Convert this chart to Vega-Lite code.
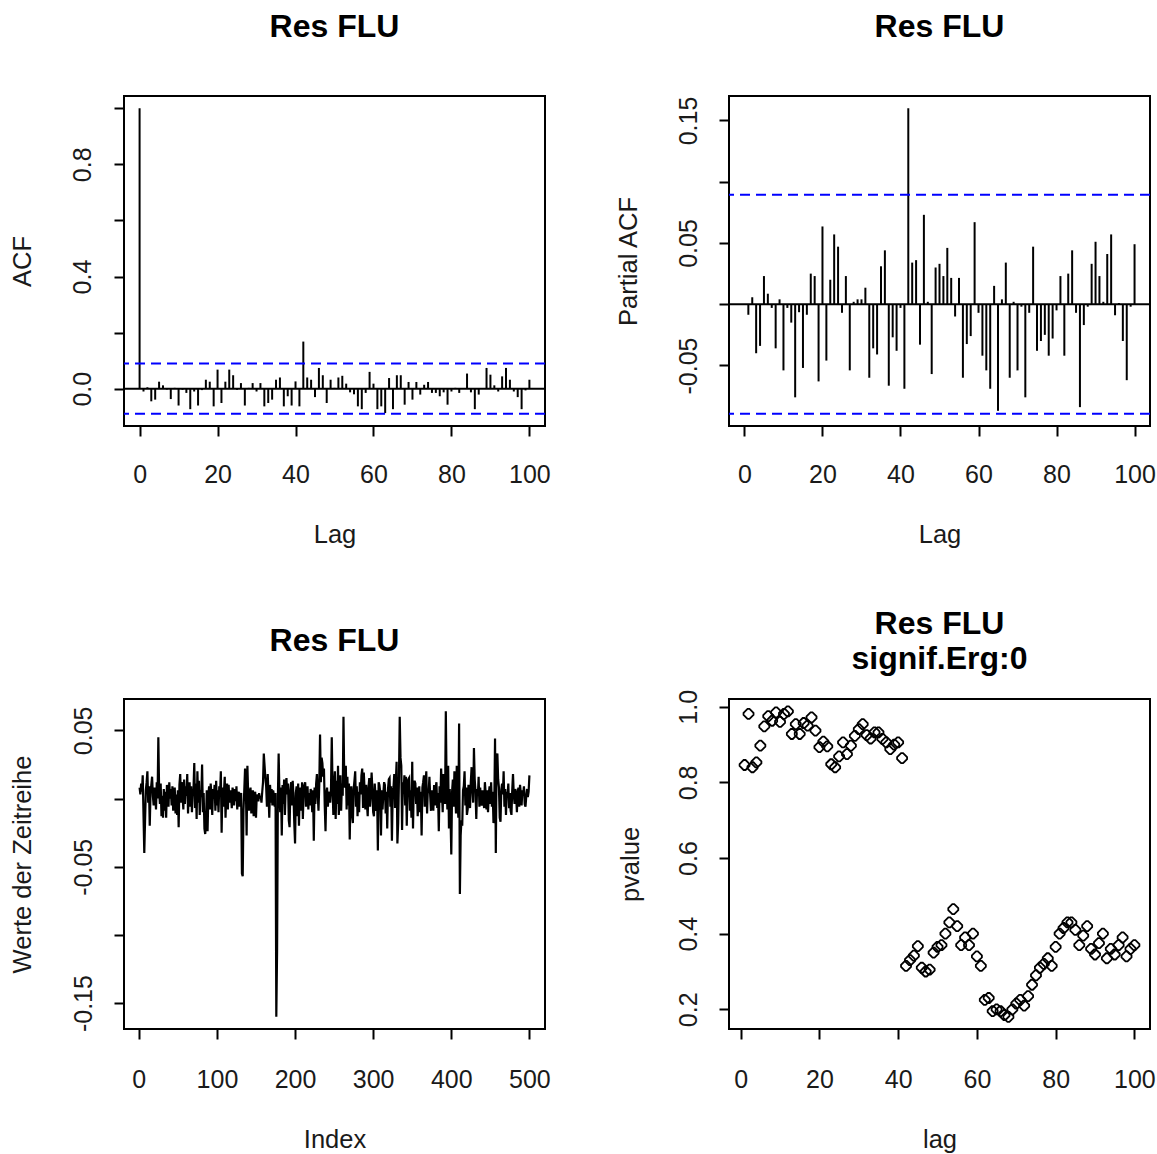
{
"$schema":"https://vega.github.io/schema/vega-lite/v6.json",
"autosize":{"type":"none"},
"padding":{"left":124,"top":96,"right":1033,"bottom":1058},
"background":"white",
"config":{
 "font":"Liberation Sans",
 "view":{"stroke":"black","strokeWidth":2},
 "axis":{"domain":false,"grid":false,"ticks":true,"tickColor":"black","tickWidth":2,"tickSize":10,"labelFont":"Liberation Sans","labelFontSize":25,"labelColor":"#1a1a1a","labelOverlap":false,"labelFlush":false,"labelBound":false,"titleFont":"Liberation Sans","titleFontSize":25.5,"titleFontWeight":"normal","titleColor":"#1a1a1a"},
 "axisBottom":{"labelBaseline":"middle","labelAlign":"center","labelAngle":0,"titleBaseline":"middle","titleAnchor":"middle"},
 "axisLeft":{"labelAngle":-90,"labelAlign":"center","labelBaseline":"middle","titleAngle":-90,"titleBaseline":"middle"},
 "title":{"font":"Liberation Sans","fontSize":32,"fontWeight":"bold","color":"black","anchor":"middle","frame":"group","baseline":"middle"}
},
"datasets":{
 "acf":[{"lag":0,"acf":1},{"lag":1,"acf":-0.010},{"lag":2,"acf":0.005},{"lag":3,"acf":-0.045},{"lag":4,"acf":-0.039},{"lag":5,"acf":0.025},{"lag":6,"acf":0.012},{"lag":7,"acf":-0.003},{"lag":8,"acf":-0.037},{"lag":9,"acf":0.003},{"lag":10,"acf":-0.060},{"lag":11,"acf":-0.004},{"lag":12,"acf":-0.015},{"lag":13,"acf":-0.073},{"lag":14,"acf":-0.010},{"lag":15,"acf":-0.060},{"lag":16,"acf":-0.005},{"lag":17,"acf":0.032},{"lag":18,"acf":0.025},{"lag":19,"acf":-0.063},{"lag":20,"acf":0.068},{"lag":21,"acf":-0.051},{"lag":22,"acf":0.025},{"lag":23,"acf":0.068},{"lag":24,"acf":0.048},{"lag":25,"acf":-0.004},{"lag":26,"acf":0.020},{"lag":27,"acf":-0.060},{"lag":28,"acf":0.003},{"lag":29,"acf":0.020},{"lag":30,"acf":-0.010},{"lag":31,"acf":0.020},{"lag":32,"acf":-0.063},{"lag":33,"acf":-0.051},{"lag":34,"acf":-0.039},{"lag":35,"acf":0.032},{"lag":36,"acf":0.040},{"lag":37,"acf":-0.063},{"lag":38,"acf":-0.027},{"lag":39,"acf":-0.060},{"lag":40,"acf":0.026},{"lag":41,"acf":-0.063},{"lag":42,"acf":0.168},{"lag":43,"acf":0.040},{"lag":44,"acf":0.032},{"lag":45,"acf":-0.030},{"lag":46,"acf":0.074},{"lag":47,"acf":0.048},{"lag":48,"acf":-0.051},{"lag":49,"acf":0.032},{"lag":50,"acf":0.003},{"lag":51,"acf":0.040},{"lag":52,"acf":0.046},{"lag":53,"acf":0.018},{"lag":54,"acf":-0.013},{"lag":55,"acf":-0.020},{"lag":56,"acf":-0.063},{"lag":57,"acf":-0.073},{"lag":58,"acf":-0.015},{"lag":59,"acf":0.060},{"lag":60,"acf":0.018},{"lag":61,"acf":-0.073},{"lag":62,"acf":-0.063},{"lag":63,"acf":-0.087},{"lag":64,"acf":0.038},{"lag":65,"acf":-0.073},{"lag":66,"acf":0.048},{"lag":67,"acf":0.048},{"lag":68,"acf":-0.057},{"lag":69,"acf":0.024},{"lag":70,"acf":-0.039},{"lag":71,"acf":0.024},{"lag":72,"acf":-0.021},{"lag":73,"acf":0.014},{"lag":74,"acf":0.024},{"lag":75,"acf":-0.015},{"lag":76,"acf":-0.015},{"lag":77,"acf":-0.027},{"lag":78,"acf":-0.013},{"lag":79,"acf":-0.057},{"lag":80,"acf":-0.010},{"lag":81,"acf":0.003},{"lag":82,"acf":-0.015},{"lag":83,"acf":0.002},{"lag":84,"acf":0.054},{"lag":85,"acf":-0.013},{"lag":86,"acf":-0.073},{"lag":87,"acf":-0.021},{"lag":88,"acf":0.002},{"lag":89,"acf":0.074},{"lag":90,"acf":0.050},{"lag":91,"acf":0.012},{"lag":92,"acf":-0.010},{"lag":93,"acf":0.044},{"lag":94,"acf":0.074},{"lag":95,"acf":0.032},{"lag":96,"acf":-0.010},{"lag":97,"acf":-0.030},{"lag":98,"acf":-0.073},{"lag":99,"acf":-0.006},{"lag":100,"acf":0.032}],
 "pacf":[{"lag":1,"pacf":-0.0086},{"lag":2,"pacf":0.0057},{"lag":3,"pacf":-0.040},{"lag":4,"pacf":-0.034},{"lag":5,"pacf":0.023},{"lag":6,"pacf":0.0086},{"lag":7,"pacf":-0.003},{"lag":8,"pacf":-0.036},{"lag":9,"pacf":0.004},{"lag":10,"pacf":-0.054},{"lag":11,"pacf":-0.003},{"lag":12,"pacf":-0.015},{"lag":13,"pacf":-0.076},{"lag":14,"pacf":-0.0065},{"lag":15,"pacf":-0.052},{"lag":16,"pacf":-0.0086},{"lag":17,"pacf":0.025},{"lag":18,"pacf":0.023},{"lag":19,"pacf":-0.063},{"lag":20,"pacf":0.0635},{"lag":21,"pacf":-0.046},{"lag":22,"pacf":0.020},{"lag":23,"pacf":0.057},{"lag":24,"pacf":0.047},{"lag":25,"pacf":-0.007},{"lag":26,"pacf":0.023},{"lag":27,"pacf":-0.054},{"lag":28,"pacf":0.002},{"lag":29,"pacf":0.004},{"lag":30,"pacf":0.004},{"lag":31,"pacf":0.0135},{"lag":32,"pacf":-0.060},{"lag":33,"pacf":-0.036},{"lag":34,"pacf":-0.041},{"lag":35,"pacf":0.031},{"lag":36,"pacf":0.044},{"lag":37,"pacf":-0.0665},{"lag":38,"pacf":-0.027},{"lag":39,"pacf":-0.038},{"lag":40,"pacf":-0.003},{"lag":41,"pacf":-0.069},{"lag":42,"pacf":0.160},{"lag":43,"pacf":0.034},{"lag":44,"pacf":0.036},{"lag":45,"pacf":-0.033},{"lag":46,"pacf":0.073},{"lag":47,"pacf":0.002},{"lag":48,"pacf":-0.057},{"lag":49,"pacf":0.030},{"lag":50,"pacf":0.033},{"lag":51,"pacf":0.023},{"lag":52,"pacf":0.046},{"lag":53,"pacf":0.0215},{"lag":54,"pacf":-0.010},{"lag":55,"pacf":0.0215},{"lag":56,"pacf":-0.060},{"lag":57,"pacf":-0.0325},{"lag":58,"pacf":-0.026},{"lag":59,"pacf":0.067},{"lag":60,"pacf":-0.007},{"lag":61,"pacf":-0.042},{"lag":62,"pacf":-0.054},{"lag":63,"pacf":-0.069},{"lag":64,"pacf":0.015},{"lag":65,"pacf":-0.087},{"lag":66,"pacf":0.004},{"lag":67,"pacf":0.034},{"lag":68,"pacf":-0.060},{"lag":69,"pacf":0.002},{"lag":70,"pacf":-0.054},{"lag":71,"pacf":-0.002},{"lag":72,"pacf":-0.076},{"lag":73,"pacf":-0.007},{"lag":74,"pacf":0.047},{"lag":75,"pacf":-0.038},{"lag":76,"pacf":-0.030},{"lag":77,"pacf":-0.025},{"lag":78,"pacf":-0.042},{"lag":79,"pacf":-0.028},{"lag":80,"pacf":-0.005},{"lag":81,"pacf":0.023},{"lag":82,"pacf":-0.042},{"lag":83,"pacf":0.025},{"lag":84,"pacf":0.044},{"lag":85,"pacf":-0.007},{"lag":86,"pacf":-0.084},{"lag":87,"pacf":-0.017},{"lag":88,"pacf":-0.002},{"lag":89,"pacf":0.033},{"lag":90,"pacf":0.051},{"lag":91,"pacf":0.023},{"lag":92,"pacf":0.002},{"lag":93,"pacf":0.041},{"lag":94,"pacf":0.057},{"lag":95,"pacf":-0.009},{"lag":96,"pacf":0.001},{"lag":97,"pacf":-0.030},{"lag":98,"pacf":-0.062},{"lag":99,"pacf":-0.002},{"lag":100,"pacf":0.049}],
 "ts":[{"i":1,"v":0.008},{"i":2,"v":0.003},{"i":3,"v":0.011},{"i":4,"v":0.005},{"i":5,"v":0.017},{"i":6,"v":-0.012},{"i":7,"v":-0.040},{"i":8,"v":-0.016},{"i":9,"v":0.006},{"i":10,"v":0.012},{"i":11,"v":0.020},{"i":12,"v":-0.003},{"i":13,"v":0.009},{"i":14,"v":-0.020},{"i":15,"v":0.004},{"i":16,"v":0.010},{"i":17,"v":0.016},{"i":18,"v":0.002},{"i":19,"v":-0.005},{"i":20,"v":0.008},{"i":21,"v":0.003},{"i":22,"v":-0.008},{"i":23,"v":0.012},{"i":24,"v":0.000},{"i":25,"v":0.045},{"i":26,"v":0.006},{"i":27,"v":-0.004},{"i":28,"v":0.011},{"i":29,"v":-0.013},{"i":30,"v":0.002},{"i":31,"v":-0.014},{"i":32,"v":0.007},{"i":33,"v":-0.009},{"i":34,"v":0.005},{"i":35,"v":-0.014},{"i":36,"v":0.010},{"i":37,"v":0.002},{"i":38,"v":-0.006},{"i":39,"v":0.012},{"i":40,"v":0.000},{"i":41,"v":0.007},{"i":42,"v":-0.005},{"i":43,"v":0.009},{"i":44,"v":-0.009},{"i":45,"v":0.004},{"i":46,"v":0.008},{"i":47,"v":-0.011},{"i":48,"v":0.003},{"i":49,"v":-0.012},{"i":50,"v":0.006},{"i":51,"v":-0.021},{"i":52,"v":0.010},{"i":53,"v":0.018},{"i":54,"v":-0.003},{"i":55,"v":0.012},{"i":56,"v":0.002},{"i":57,"v":-0.008},{"i":58,"v":0.014},{"i":59,"v":-0.004},{"i":60,"v":0.009},{"i":61,"v":0.002},{"i":62,"v":0.018},{"i":63,"v":-0.011},{"i":64,"v":0.006},{"i":65,"v":0.012},{"i":66,"v":-0.006},{"i":67,"v":0.009},{"i":68,"v":-0.010},{"i":69,"v":0.004},{"i":70,"v":0.007},{"i":71,"v":0.026},{"i":72,"v":-0.007},{"i":73,"v":0.011},{"i":74,"v":-0.015},{"i":75,"v":0.020},{"i":76,"v":-0.003},{"i":77,"v":0.013},{"i":78,"v":-0.012},{"i":79,"v":0.006},{"i":80,"v":0.001},{"i":81,"v":0.025},{"i":82,"v":-0.010},{"i":83,"v":0.004},{"i":84,"v":-0.022},{"i":85,"v":-0.026},{"i":86,"v":-0.018},{"i":87,"v":0.006},{"i":88,"v":-0.024},{"i":89,"v":0.002},{"i":90,"v":0.009},{"i":91,"v":-0.008},{"i":92,"v":0.011},{"i":93,"v":0.003},{"i":94,"v":-0.012},{"i":95,"v":0.007},{"i":96,"v":0.000},{"i":97,"v":0.010},{"i":98,"v":-0.009},{"i":99,"v":0.013},{"i":100,"v":-0.005},{"i":101,"v":0.006},{"i":102,"v":-0.010},{"i":103,"v":0.009},{"i":104,"v":0.002},{"i":105,"v":0.020},{"i":106,"v":-0.025},{"i":107,"v":0.008},{"i":108,"v":-0.006},{"i":109,"v":0.005},{"i":110,"v":0.016},{"i":111,"v":-0.014},{"i":112,"v":0.004},{"i":113,"v":0.011},{"i":114,"v":-0.008},{"i":115,"v":0.010},{"i":116,"v":-0.003},{"i":117,"v":0.006},{"i":118,"v":0.002},{"i":119,"v":-0.007},{"i":120,"v":0.008},{"i":121,"v":0.004},{"i":122,"v":-0.005},{"i":123,"v":0.007},{"i":124,"v":-0.002},{"i":125,"v":0.009},{"i":126,"v":-0.008},{"i":127,"v":0.003},{"i":128,"v":0.005},{"i":129,"v":-0.006},{"i":130,"v":0.002},{"i":131,"v":0.004},{"i":132,"v":-0.055},{"i":133,"v":-0.057},{"i":134,"v":-0.008},{"i":135,"v":0.006},{"i":136,"v":0.022},{"i":137,"v":0.010},{"i":138,"v":-0.027},{"i":139,"v":0.024},{"i":140,"v":0.003},{"i":141,"v":-0.009},{"i":142,"v":0.004},{"i":143,"v":0.008},{"i":144,"v":-0.011},{"i":145,"v":0.002},{"i":146,"v":0.006},{"i":147,"v":-0.013},{"i":148,"v":0.000},{"i":149,"v":0.005},{"i":150,"v":-0.014},{"i":151,"v":0.003},{"i":152,"v":0.001},{"i":153,"v":-0.002},{"i":154,"v":0.004},{"i":155,"v":0.000},{"i":156,"v":0.002},{"i":157,"v":-0.003},{"i":158,"v":0.005},{"i":159,"v":0.012},{"i":160,"v":0.033},{"i":161,"v":0.024},{"i":162,"v":0.015},{"i":163,"v":0.009},{"i":164,"v":-0.006},{"i":165,"v":0.018},{"i":166,"v":0.004},{"i":167,"v":-0.014},{"i":168,"v":0.010},{"i":169,"v":-0.003},{"i":170,"v":0.007},{"i":171,"v":-0.005},{"i":172,"v":0.006},{"i":173,"v":0.002},{"i":174,"v":-0.006},{"i":175,"v":0.004},{"i":176,"v":-0.160},{"i":177,"v":-0.112},{"i":178,"v":0.000},{"i":179,"v":0.033},{"i":180,"v":0.005},{"i":181,"v":-0.010},{"i":182,"v":0.008},{"i":183,"v":-0.027},{"i":184,"v":0.010},{"i":185,"v":-0.004},{"i":186,"v":0.014},{"i":187,"v":-0.012},{"i":188,"v":0.007},{"i":189,"v":0.015},{"i":190,"v":0.003},{"i":191,"v":0.011},{"i":192,"v":-0.016},{"i":193,"v":-0.021},{"i":194,"v":0.006},{"i":195,"v":0.012},{"i":196,"v":-0.005},{"i":197,"v":0.013},{"i":198,"v":0.002},{"i":199,"v":-0.018},{"i":200,"v":-0.033},{"i":201,"v":0.004},{"i":202,"v":0.009},{"i":203,"v":-0.013},{"i":204,"v":0.011},{"i":205,"v":-0.020},{"i":206,"v":0.005},{"i":207,"v":0.008},{"i":208,"v":-0.009},{"i":209,"v":0.012},{"i":210,"v":-0.015},{"i":211,"v":0.006},{"i":212,"v":0.010},{"i":213,"v":0.012},{"i":214,"v":-0.006},{"i":215,"v":0.003},{"i":216,"v":0.009},{"i":217,"v":-0.008},{"i":218,"v":0.004},{"i":219,"v":-0.005},{"i":220,"v":0.007},{"i":221,"v":0.002},{"i":222,"v":-0.010},{"i":223,"v":0.006},{"i":224,"v":-0.031},{"i":225,"v":0.008},{"i":226,"v":-0.004},{"i":227,"v":0.011},{"i":228,"v":0.018},{"i":229,"v":0.003},{"i":230,"v":-0.009},{"i":231,"v":0.010},{"i":232,"v":0.047},{"i":233,"v":0.012},{"i":234,"v":0.030},{"i":235,"v":0.026},{"i":236,"v":0.016},{"i":237,"v":0.022},{"i":238,"v":-0.005},{"i":239,"v":-0.024},{"i":240,"v":0.004},{"i":241,"v":0.008},{"i":242,"v":-0.006},{"i":243,"v":0.002},{"i":244,"v":0.005},{"i":245,"v":-0.003},{"i":246,"v":0.007},{"i":247,"v":0.045},{"i":248,"v":0.009},{"i":249,"v":-0.012},{"i":250,"v":0.010},{"i":251,"v":0.020},{"i":252,"v":-0.015},{"i":253,"v":0.013},{"i":254,"v":-0.004},{"i":255,"v":0.024},{"i":256,"v":-0.012},{"i":257,"v":0.006},{"i":258,"v":0.017},{"i":259,"v":-0.009},{"i":260,"v":0.011},{"i":261,"v":0.002},{"i":262,"v":0.060},{"i":263,"v":0.014},{"i":264,"v":0.008},{"i":265,"v":0.024},{"i":266,"v":-0.008},{"i":267,"v":0.016},{"i":268,"v":-0.005},{"i":269,"v":0.011},{"i":270,"v":-0.030},{"i":271,"v":0.004},{"i":272,"v":0.009},{"i":273,"v":-0.012},{"i":274,"v":-0.018},{"i":275,"v":0.007},{"i":276,"v":0.013},{"i":277,"v":0.020},{"i":278,"v":-0.006},{"i":279,"v":0.009},{"i":280,"v":-0.013},{"i":281,"v":0.005},{"i":282,"v":-0.010},{"i":283,"v":0.012},{"i":284,"v":0.003},{"i":285,"v":0.017},{"i":286,"v":0.022},{"i":287,"v":-0.007},{"i":288,"v":0.019},{"i":289,"v":0.006},{"i":290,"v":-0.008},{"i":291,"v":0.010},{"i":292,"v":-0.004},{"i":293,"v":-0.013},{"i":294,"v":0.008},{"i":295,"v":0.015},{"i":296,"v":-0.006},{"i":297,"v":0.004},{"i":298,"v":0.019},{"i":299,"v":0.007},{"i":300,"v":-0.010},{"i":301,"v":-0.013},{"i":302,"v":0.011},{"i":303,"v":0.002},{"i":304,"v":-0.009},{"i":305,"v":0.006},{"i":306,"v":-0.038},{"i":307,"v":0.012},{"i":308,"v":0.010},{"i":309,"v":0.005},{"i":310,"v":-0.027},{"i":311,"v":0.006},{"i":312,"v":-0.008},{"i":313,"v":0.003},{"i":314,"v":0.012},{"i":315,"v":0.010},{"i":316,"v":-0.011},{"i":317,"v":0.005},{"i":318,"v":-0.022},{"i":319,"v":0.007},{"i":320,"v":0.014},{"i":321,"v":0.015},{"i":322,"v":-0.006},{"i":323,"v":0.009},{"i":324,"v":-0.031},{"i":325,"v":0.004},{"i":326,"v":0.008},{"i":327,"v":0.018},{"i":328,"v":-0.007},{"i":329,"v":0.012},{"i":330,"v":0.027},{"i":331,"v":-0.033},{"i":332,"v":-0.018},{"i":333,"v":0.014},{"i":334,"v":0.060},{"i":335,"v":0.030},{"i":336,"v":0.024},{"i":337,"v":-0.023},{"i":338,"v":0.012},{"i":339,"v":0.006},{"i":340,"v":0.017},{"i":341,"v":-0.005},{"i":342,"v":0.016},{"i":343,"v":-0.020},{"i":344,"v":0.009},{"i":345,"v":0.014},{"i":346,"v":0.015},{"i":347,"v":-0.009},{"i":348,"v":0.006},{"i":349,"v":-0.014},{"i":350,"v":0.027},{"i":351,"v":-0.022},{"i":352,"v":0.010},{"i":353,"v":0.013},{"i":354,"v":0.011},{"i":355,"v":-0.004},{"i":356,"v":0.008},{"i":357,"v":-0.013},{"i":358,"v":0.002},{"i":359,"v":0.009},{"i":360,"v":-0.010},{"i":361,"v":0.005},{"i":362,"v":-0.027},{"i":363,"v":0.008},{"i":364,"v":0.012},{"i":365,"v":0.017},{"i":366,"v":-0.006},{"i":367,"v":0.010},{"i":368,"v":0.020},{"i":369,"v":-0.011},{"i":370,"v":0.007},{"i":371,"v":0.004},{"i":372,"v":0.016},{"i":373,"v":0.002},{"i":374,"v":-0.009},{"i":375,"v":0.006},{"i":376,"v":0.003},{"i":377,"v":-0.009},{"i":378,"v":0.010},{"i":379,"v":-0.005},{"i":380,"v":0.008},{"i":381,"v":0.012},{"i":382,"v":-0.007},{"i":383,"v":0.004},{"i":384,"v":-0.024},{"i":385,"v":0.009},{"i":386,"v":-0.003},{"i":387,"v":0.022},{"i":388,"v":0.006},{"i":389,"v":-0.010},{"i":390,"v":0.018},{"i":391,"v":0.016},{"i":392,"v":-0.004},{"i":393,"v":0.064},{"i":394,"v":0.011},{"i":395,"v":-0.008},{"i":396,"v":0.024},{"i":397,"v":-0.022},{"i":398,"v":0.007},{"i":399,"v":-0.012},{"i":400,"v":-0.041},{"i":401,"v":0.005},{"i":402,"v":0.014},{"i":403,"v":-0.006},{"i":404,"v":0.020},{"i":405,"v":0.008},{"i":406,"v":-0.011},{"i":407,"v":0.024},{"i":408,"v":0.003},{"i":409,"v":-0.014},{"i":410,"v":0.055},{"i":411,"v":-0.070},{"i":412,"v":-0.027},{"i":413,"v":-0.016},{"i":414,"v":-0.020},{"i":415,"v":0.006},{"i":416,"v":0.009},{"i":417,"v":0.020},{"i":418,"v":-0.005},{"i":419,"v":0.008},{"i":420,"v":-0.012},{"i":421,"v":-0.008},{"i":422,"v":0.010},{"i":423,"v":0.004},{"i":424,"v":-0.007},{"i":425,"v":0.012},{"i":426,"v":0.023},{"i":427,"v":0.009},{"i":428,"v":-0.003},{"i":429,"v":0.037},{"i":430,"v":0.014},{"i":431,"v":0.005},{"i":432,"v":-0.015},{"i":433,"v":0.007},{"i":434,"v":0.002},{"i":435,"v":0.016},{"i":436,"v":-0.006},{"i":437,"v":0.008},{"i":438,"v":-0.003},{"i":439,"v":-0.005},{"i":440,"v":0.006},{"i":441,"v":0.002},{"i":442,"v":-0.007},{"i":443,"v":0.012},{"i":444,"v":0.004},{"i":445,"v":-0.008},{"i":446,"v":0.006},{"i":447,"v":-0.010},{"i":448,"v":0.003},{"i":449,"v":0.009},{"i":450,"v":-0.004},{"i":451,"v":0.012},{"i":452,"v":-0.006},{"i":453,"v":0.005},{"i":454,"v":-0.018},{"i":455,"v":-0.008},{"i":456,"v":0.044},{"i":457,"v":-0.040},{"i":458,"v":0.030},{"i":459,"v":0.033},{"i":460,"v":0.014},{"i":461,"v":0.008},{"i":462,"v":-0.014},{"i":463,"v":-0.017},{"i":464,"v":0.006},{"i":465,"v":0.011},{"i":466,"v":0.003},{"i":467,"v":0.020},{"i":468,"v":-0.006},{"i":469,"v":0.007},{"i":470,"v":-0.012},{"i":471,"v":0.005},{"i":472,"v":0.002},{"i":473,"v":0.011},{"i":474,"v":-0.007},{"i":475,"v":0.004},{"i":476,"v":-0.009},{"i":477,"v":-0.012},{"i":478,"v":0.006},{"i":479,"v":0.018},{"i":480,"v":0.003},{"i":481,"v":-0.004},{"i":482,"v":0.007},{"i":483,"v":0.002},{"i":484,"v":-0.010},{"i":485,"v":0.005},{"i":486,"v":0.008},{"i":487,"v":-0.006},{"i":488,"v":0.010},{"i":489,"v":0.004},{"i":490,"v":-0.005},{"i":491,"v":0.006},{"i":492,"v":0.003},{"i":493,"v":0.009},{"i":494,"v":-0.004},{"i":495,"v":-0.006},{"i":496,"v":0.002},{"i":497,"v":0.007},{"i":498,"v":0.001},{"i":499,"v":0.005},{"i":500,"v":0.017}],
 "pv":[{"lag":1,"p":0.846},{"lag":2,"p":0.981},{"lag":3,"p":0.840},{"lag":4,"p":0.853},{"lag":5,"p":0.897},{"lag":6,"p":0.948},{"lag":7,"p":0.975},{"lag":8,"p":0.963},{"lag":9,"p":0.985},{"lag":10,"p":0.960},{"lag":11,"p":0.981},{"lag":12,"p":0.988},{"lag":13,"p":0.928},{"lag":14,"p":0.954},{"lag":15,"p":0.928},{"lag":16,"p":0.957},{"lag":17,"p":0.950},{"lag":18,"p":0.972},{"lag":19,"p":0.937},{"lag":20,"p":0.893},{"lag":21,"p":0.908},{"lag":22,"p":0.895},{"lag":23,"p":0.848},{"lag":24,"p":0.840},{"lag":25,"p":0.869},{"lag":26,"p":0.906},{"lag":27,"p":0.875},{"lag":28,"p":0.897},{"lag":29,"p":0.923},{"lag":30,"p":0.941},{"lag":31,"p":0.954},{"lag":32,"p":0.925},{"lag":33,"p":0.916},{"lag":34,"p":0.932},{"lag":35,"p":0.932},{"lag":36,"p":0.915},{"lag":37,"p":0.906},{"lag":38,"p":0.888},{"lag":39,"p":0.900},{"lag":40,"p":0.906},{"lag":41,"p":0.864},{"lag":42,"p":0.315},{"lag":43,"p":0.330},{"lag":44,"p":0.342},{"lag":45,"p":0.367},{"lag":46,"p":0.310},{"lag":47,"p":0.300},{"lag":48,"p":0.305},{"lag":49,"p":0.350},{"lag":50,"p":0.365},{"lag":51,"p":0.370},{"lag":52,"p":0.400},{"lag":53,"p":0.430},{"lag":54,"p":0.465},{"lag":55,"p":0.420},{"lag":56,"p":0.370},{"lag":57,"p":0.390},{"lag":58,"p":0.370},{"lag":59,"p":0.400},{"lag":60,"p":0.340},{"lag":61,"p":0.315},{"lag":62,"p":0.225},{"lag":63,"p":0.230},{"lag":64,"p":0.195},{"lag":65,"p":0.200},{"lag":66,"p":0.195},{"lag":67,"p":0.185},{"lag":68,"p":0.180},{"lag":69,"p":0.200},{"lag":70,"p":0.215},{"lag":71,"p":0.225},{"lag":72,"p":0.210},{"lag":73,"p":0.235},{"lag":74,"p":0.265},{"lag":75,"p":0.290},{"lag":76,"p":0.310},{"lag":77,"p":0.320},{"lag":78,"p":0.335},{"lag":79,"p":0.315},{"lag":80,"p":0.365},{"lag":81,"p":0.400},{"lag":82,"p":0.415},{"lag":83,"p":0.430},{"lag":84,"p":0.430},{"lag":85,"p":0.410},{"lag":86,"p":0.370},{"lag":87,"p":0.395},{"lag":88,"p":0.420},{"lag":89,"p":0.360},{"lag":90,"p":0.345},{"lag":91,"p":0.375},{"lag":92,"p":0.400},{"lag":93,"p":0.335},{"lag":94,"p":0.360},{"lag":95,"p":0.345},{"lag":96,"p":0.370},{"lag":97,"p":0.390},{"lag":98,"p":0.340},{"lag":99,"p":0.360},{"lag":100,"p":0.370}]
},
"columns":2,
"spacing":{"row":273,"column":184},
"bounds":"flush",
"concat":[
 {
  "width":421,"height":330,
  "title":{"text":"Res FLU","offset":52},
  "layer":[
   {"data":{"name":"acf"},"mark":{"type":"rule","color":"black","strokeWidth":2},
    "encoding":{
     "x":{"field":"lag","type":"quantitative","title":"Lag","scale":{"domain":[-4,104],"nice":false,"zero":false},"axis":{"values":[0,20,40,60,80,100],"labelPadding":38,"titleY":108}},
     "y":{"field":"acf","type":"quantitative","title":"ACF","scale":{"domain":[-0.133,1.0436],"nice":false,"zero":false},"axis":{"values":[0,0.2,0.4,0.6,0.8,1],"labelExpr":"datum.value==0?'0.0':datum.value==0.4?'0.4':datum.value==0.8?'0.8':''","labelPadding":32,"titleX":-102}},
     "y2":{"datum":0}}},
   {"data":{"values":[{"c":0}]},"mark":{"type":"rule","color":"black","strokeWidth":2},"encoding":{"y":{"field":"c","type":"quantitative","title":"ACF"}}},
   {"data":{"values":[{"c":0.0894},{"c":-0.0894}]},"mark":{"type":"rule","color":"#0000ff","strokeWidth":2,"strokeDash":[10,6]},"encoding":{"y":{"field":"c","type":"quantitative","title":"ACF"}}}
  ]
 },
 {
  "width":421,"height":330,
  "title":{"text":"Res FLU","offset":52},
  "layer":[
   {"data":{"name":"pacf"},"mark":{"type":"rule","color":"black","strokeWidth":2},
    "encoding":{
     "x":{"field":"lag","type":"quantitative","title":"Lag","scale":{"domain":[-3.96,103.96],"nice":false,"zero":false},"axis":{"values":[0,20,40,60,80,100],"labelPadding":38,"titleY":108}},
     "y":{"field":"pacf","type":"quantitative","title":"Partial ACF","scale":{"domain":[-0.0994,0.170],"nice":false,"zero":false},"axis":{"values":[-0.05,0,0.05,0.1,0.15],"labelExpr":"datum.value==0.15?'0.15':datum.value==0.05?'0.05':datum.value==-0.05?'-0.05':''","labelPadding":31,"titleX":-101}},
     "y2":{"datum":0}}},
   {"data":{"values":[{"c":0}]},"mark":{"type":"rule","color":"black","strokeWidth":2},"encoding":{"y":{"field":"c","type":"quantitative","title":"Partial ACF"}}},
   {"data":{"values":[{"c":0.0894},{"c":-0.0894}]},"mark":{"type":"rule","color":"#0000ff","strokeWidth":2,"strokeDash":[10,6]},"encoding":{"y":{"field":"c","type":"quantitative","title":"Partial ACF"}}}
  ]
 },
 {
  "width":421,"height":330,
  "title":{"text":"Res FLU","offset":41},
  "data":{"name":"ts"},
  "mark":{"type":"line","color":"black","strokeWidth":2.2},
  "encoding":{
   "x":{"field":"i","type":"quantitative","title":"Index","scale":{"domain":[-18.96,519.96],"nice":false,"zero":false},"axis":{"values":[0,100,200,300,400,500],"labelPadding":40,"titleY":110}},
   "y":{"field":"v","type":"quantitative","title":"Werte der Zeitreihe","scale":{"domain":[-0.169,0.073],"nice":false,"zero":false},"axis":{"values":[-0.15,-0.1,-0.05,0,0.05],"labelExpr":"datum.value==0.05?'0.05':datum.value==-0.05?'-0.05':datum.value==-0.15?'-0.15':''","labelPadding":31,"titleX":-102}}
  }
 },
 {
  "width":421,"height":330,
  "title":{"text":["Res FLU","signif.Erg:0"],"offset":13,"lineHeight":35},
  "data":{"name":"pv"},
  "mark":{"type":"point","shape":"M-0.2,-1L0.2,-1L1,-0.2L1,0.2L0.2,1L-0.2,1L-1,0.2L-1,-0.2Z","filled":false,"stroke":"black","strokeWidth":1.8,"size":100,"opacity":1},
  "encoding":{
   "x":{"field":"lag","type":"quantitative","title":"lag","scale":{"domain":[-2.96,103.96],"nice":false,"zero":false},"axis":{"values":[0,20,40,60,80,100],"labelPadding":40,"titleY":110}},
   "y":{"field":"p","type":"quantitative","title":"pvalue","scale":{"domain":[0.148,1.0205],"nice":false,"zero":false},"axis":{"values":[0.2,0.4,0.6,0.8,1],"labelExpr":"format(datum.value,'.1f')","labelPadding":31,"titleX":-99}}
  }
 }
]
}
